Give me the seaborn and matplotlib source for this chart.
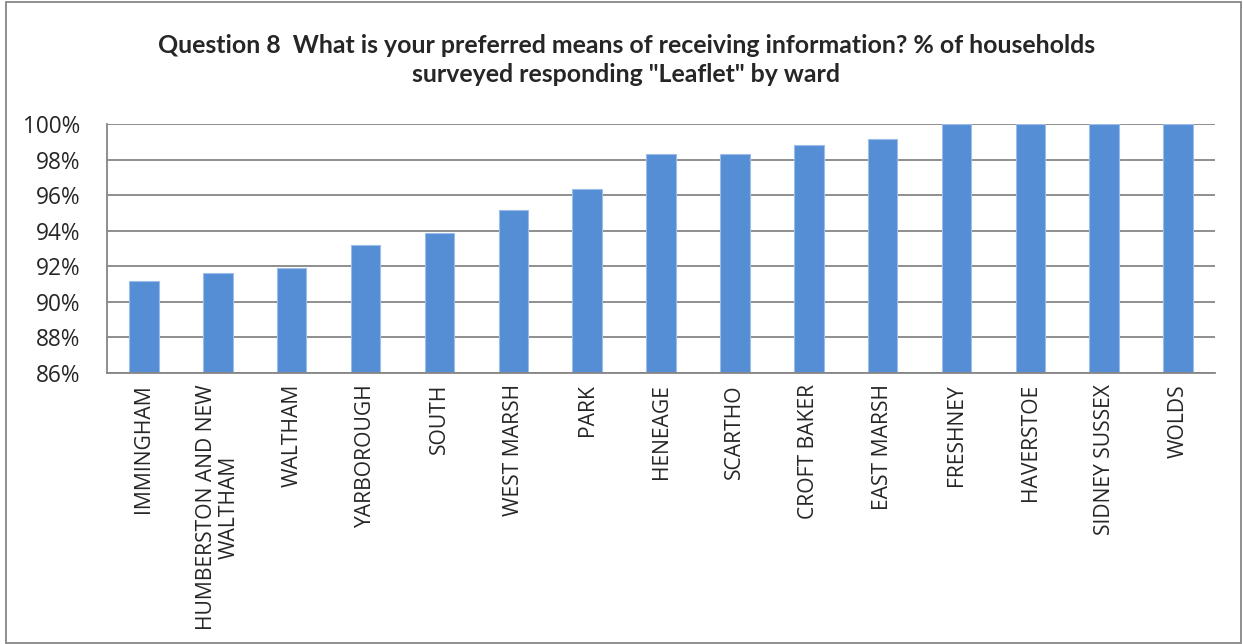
import matplotlib
matplotlib.use("Agg")
import matplotlib.pyplot as plt
import seaborn as sns
import pandas as pd
from matplotlib.patches import Rectangle
from matplotlib.ticker import FixedLocator, PercentFormatter

wards = ["IMMINGHAM", "HUMBERSTON AND NEW\nWALTHAM", "WALTHAM", "YARBOROUGH", "SOUTH",
         "WEST MARSH", "PARK", "HENEAGE", "SCARTHO", "CROFT BAKER", "EAST MARSH",
         "FRESHNEY", "HAVERSTOE", "SIDNEY SUSSEX", "WOLDS"]
leaflet_pct = [91.15, 91.65, 91.9, 93.2, 93.85, 95.15, 96.35, 98.33, 98.33, 98.84,
               99.14, 100, 100, 100, 100]
y_ticks = [86, 88, 90, 92, 94, 96, 98, 100]

df = pd.DataFrame({"ward": wards, "pct": leaflet_pct})

sns.set_style("white")
plt.rcParams["font.family"] = ["Open Sans", "DejaVu Sans"]

fig = plt.figure(figsize=(12.43, 6.44), dpi=100)
ax = fig.add_axes([0.0861, 0.4208, 0.8914, 0.3867])

sns.barplot(data=df, x="ward", y="pct", color="#558ED5", width=0.4,
            edgecolor="#9DBDE8", linewidth=0.8, saturation=1, ax=ax)

ax.set_ylim(86, 100)
ax.set_xlim(-0.5, len(wards) - 0.5)
ax.set_yticks(y_ticks)
ax.yaxis.set_major_formatter(PercentFormatter(decimals=0))
ax.grid(axis="y", color="#868686", linewidth=1.3)
ax.set_axisbelow(True)
ax.set_xlabel("")
ax.set_ylabel("")

for s in ["top", "right"]:
    ax.spines[s].set_visible(False)
for s in ["left", "bottom"]:
    ax.spines[s].set_color("#868686")
    ax.spines[s].set_linewidth(1.3)

ax.tick_params(axis="y", length=7, color="#868686", width=1.3, labelsize=16.3, pad=12)
ax.tick_params(axis="x", which="major", length=0, labelsize=15.2, pad=8)
ax.xaxis.set_minor_locator(FixedLocator([i - 0.5 for i in range(len(wards) + 1)]))
ax.tick_params(axis="x", which="minor", length=5, color="#868686", width=1.3)
plt.setp(ax.get_xticklabels(), rotation=90, va="top", ha="center", multialignment="center",
         linespacing=1.05, family="Open Sans")
plt.setp(ax.get_yticklabels(), family="Open Sans")

fig.text(0.504, 0.907, "Question 8  What is your preferred means of receiving information? % of households\n"
         "surveyed responding \"Leaflet\" by ward", ha="center", va="center",
         fontsize=17.9, fontweight="bold", family=["Lato", "DejaVu Sans"], linespacing=1.33)

fig.patches.append(Rectangle((0.005, 0.002), 0.993, 0.995, transform=fig.transFigure,
                             fill=False, edgecolor="#868686", linewidth=1.3))

fig.savefig("out.png", dpi=100)
